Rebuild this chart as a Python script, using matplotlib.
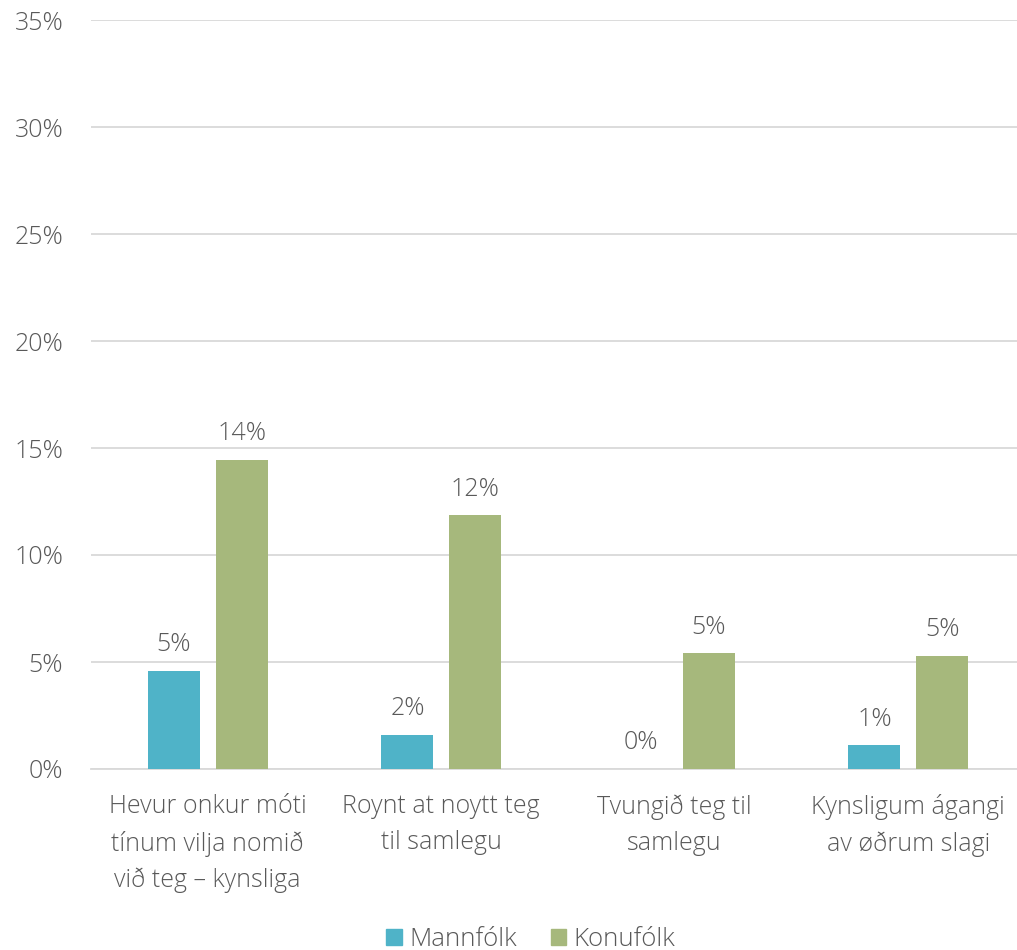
import numpy as np
import matplotlib.pyplot as plt
from matplotlib.patches import Patch

# data
kategoriir = ["Hevur onkur móti\ntínum vilja nomið\nvið teg – kynsliga",
              "Roynt at noytt teg\ntil samlegu",
              "Tvungið teg til\nsamlegu",
              "Kynsligum ágangi\nav øðrum slagi"]
mannfolk = [4.6, 1.6, 0.0, 1.1]
konufolk = [14.45, 11.85, 5.4, 5.3]
seriunavn = ["Mannfólk", "Konufólk"]

plt.rcParams['font.family'] = ['Open Sans', 'DejaVu Sans']
plt.rcParams['font.weight'] = 'light'
tekstlitur = "#595959"
litir = ["#4FB3C8", "#A6B87C"]

fig = plt.figure(figsize=(10.17, 9.5), dpi=100)
ax = fig.add_axes([91/1017, 181/950, 934/1017, 749/950])

x = np.arange(len(kategoriir))
breidd = 0.223
fra = 0.145
b1 = ax.bar(x - fra, mannfolk, breidd, color=litir[0], zorder=3)
b2 = ax.bar(x + fra, konufolk, breidd, color=litir[1], zorder=3)

for bars, vals in ((b1, mannfolk), (b2, konufolk)):
    for b, v in zip(bars, vals):
        ax.text(b.get_x() + b.get_width()/2, v + 0.65, "{:.0f}%".format(round(v)),
                ha="center", va="bottom", fontsize=18, color=tekstlitur)

ax.set_xlim(-0.5, 3.5)
ax.set_ylim(0, 35)
ax.set_yticks(range(0, 36, 5))
ax.set_yticklabels(["{}%".format(t) for t in range(0, 36, 5)])
ax.set_xticks(x)
ax.set_xticklabels(kategoriir, linespacing=1.58)
ax.tick_params(axis="both", length=0, labelsize=18, labelcolor=tekstlitur)
ax.tick_params(axis="y", pad=20)
ax.tick_params(axis="x", pad=18)
ax.grid(axis="y", color="#D9D9D9", linewidth=1.3, zorder=0)
for s in ["top", "right", "left"]:
    ax.spines[s].set_visible(False)
ax.spines["bottom"].set_color("#D9D9D9")
ax.spines["bottom"].set_linewidth(1.3)

handles = [Patch(color=litir[0]), Patch(color=litir[1])]
fig.legend(handles, seriunavn, loc="center", bbox_to_anchor=(0.522, 0.011),
           ncol=2, frameon=False, fontsize=18.5, labelcolor=tekstlitur,
           handlelength=0.6, handleheight=0.6, handletextpad=0.3, columnspacing=1.3)

fig.savefig("out.png", dpi=100)
